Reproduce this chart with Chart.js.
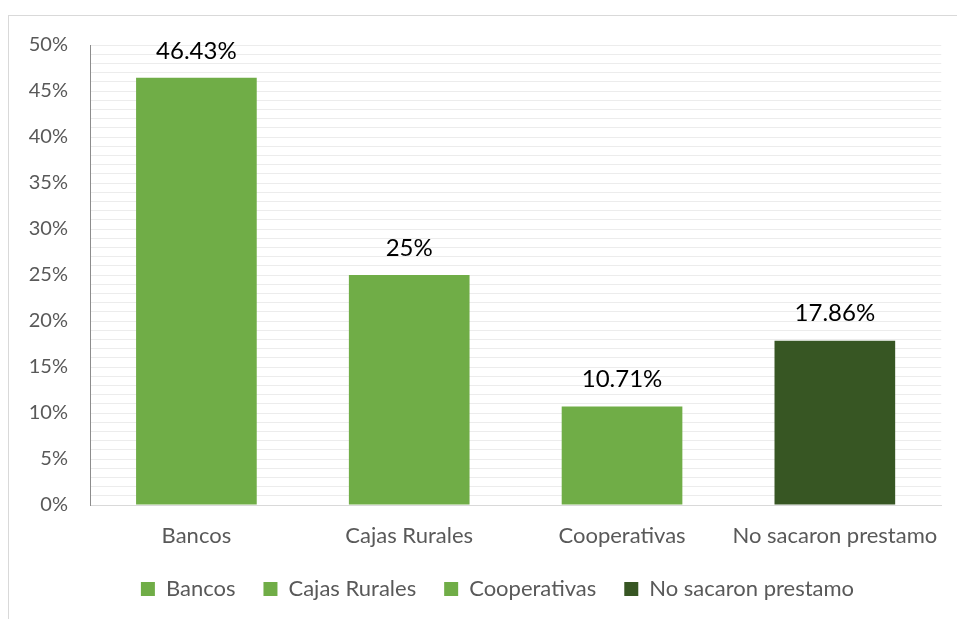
<!DOCTYPE html>
<html><head><meta charset="utf-8">
<script src="https://cdn.jsdelivr.net/npm/chart.js@4/dist/chart.umd.min.js"></script>
<style>
html,body{margin:0;padding:0;background:#fff;width:957px;height:619px;overflow:hidden;}
#frame{position:absolute;left:8px;top:15px;width:960px;height:620px;border:1px solid #d9d9d9;box-sizing:border-box;}
#wrap{position:absolute;left:0;top:0;width:957px;height:619px;}
</style></head>
<body>
<div id="frame"></div>
<div id="wrap"><canvas id="c" width="957" height="619"></canvas></div>
<script>
const categories = ["Bancos", "Cajas Rurales", "Cooperativas", "No sacaron prestamo"];
const values = [46.43, 25, 10.71, 17.86];
const valueLabels = ["46.43%", "25%", "10.71%", "17.86%"];
const colors = ["#70ad47", "#70ad47", "#70ad47", "#375623"];
const FONT = "Lato, 'Open Sans', sans-serif";

const dataLabelPlugin = {
  id: 'dataLabels',
  afterDatasetsDraw(chart) {
    const ctx = chart.ctx;
    const meta = chart.getDatasetMeta(0);
    ctx.save();
    ctx.font = "24px " + FONT;
    ctx.fillStyle = "#000";
    ctx.textAlign = "center";
    ctx.textBaseline = "middle";
    meta.data.forEach((bar, i) => {
      ctx.fillText(valueLabels[i], bar.x, bar.y - 27);
    });
    ctx.restore();
  }
};

const legendShift = {
  id: 'legendShift',
  afterLayout(chart) {
    if (chart.legend) {
      chart.legend.left += 26;
      chart.legend.right += 26;
    }
  }
};

new Chart(document.getElementById('c'), {
  type: 'bar',
  data: {
    labels: categories,
    datasets: [{
      data: values,
      backgroundColor: colors,
      borderWidth: 0,
      categoryPercentage: 1,
      barPercentage: 0.567
    }]
  },
  options: {
    responsive: false,
    animation: false,
    layout: { padding: { left: 0, right: 14, top: 45, bottom: 11 } },
    plugins: {
      tooltip: { enabled: false },
      legend: {
        position: 'bottom',
        maxHeight: 58,
        labels: {
          font: { size: 22, family: FONT },
          color: '#595959',
          boxWidth: 14,
          boxHeight: 14,
          padding: 28,
          generateLabels: (chart) => categories.map((c, i) => ({
            text: c, fillStyle: colors[i], strokeStyle: colors[i], lineWidth: 0, index: i, hidden: false, fontColor: '#595959'
          }))
        },
        onClick: () => {}
      }
    },
    scales: {
      x: {
        afterFit: (s) => { s.height = 45; },
        grid: { display: false, drawTicks: false },
        border: { color: '#d9d9d9', width: 1 },
        ticks: { font: { size: 22, family: FONT }, color: '#595959', padding: 18, maxRotation: 0 }
      },
      y: {
        min: 0, max: 50,
        afterFit: (s) => { s.width = 90; },
        grid: { color: '#ececec', lineWidth: 1, drawTicks: false },
        border: { color: '#8c8c8c', width: 1 },
        ticks: {
          stepSize: 1,
          autoSkip: false,
          padding: 22,
          font: { size: 20, family: FONT },
          color: '#595959',
          callback: (v) => (v % 5 === 0 ? v + '%' : '')
        }
      }
    }
  },
  plugins: [dataLabelPlugin, legendShift]
});
</script>
</body></html>
